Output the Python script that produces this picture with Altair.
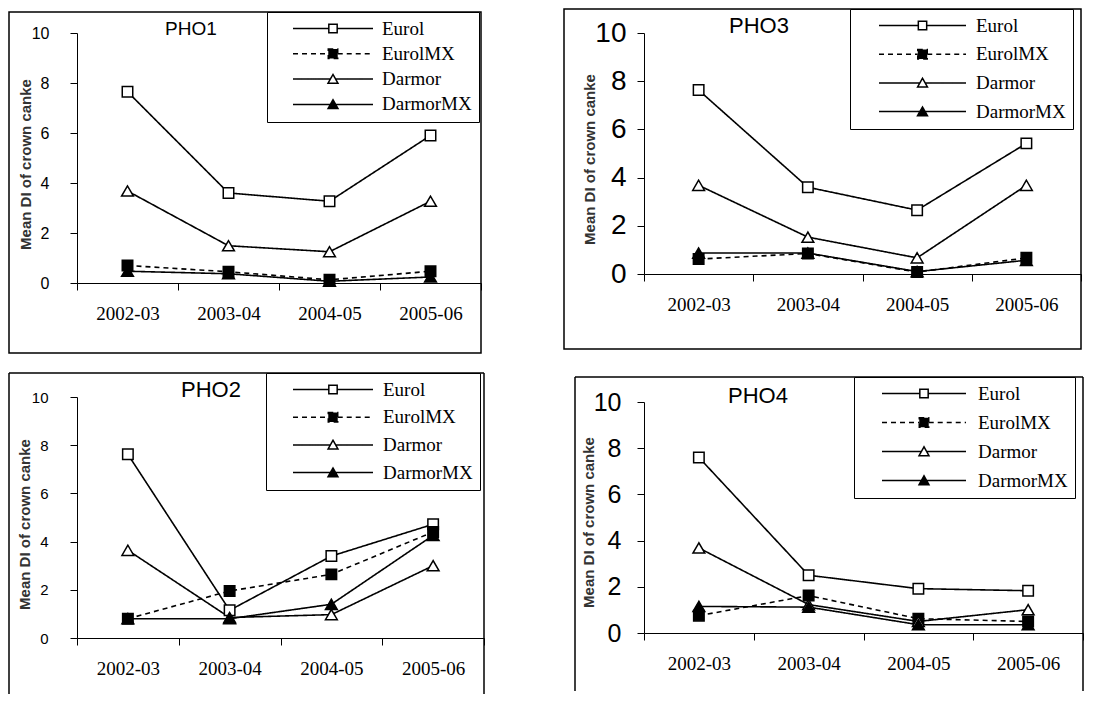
import altair as alt
import pandas as pd

years = ["2002-03", "2003-04", "2004-05", "2005-06"]
series = ["Eurol", "EurolMX", "Darmor", "DarmorMX"]
y_ticks = [0, 2, 4, 6, 8, 10]
y_title = "Mean DI of crown canke"

pho1_eurol = [7.65, 3.60, 3.27, 5.90]
pho1_eurolmx = [0.70, 0.45, 0.13, 0.47]
pho1_darmor = [3.68, 1.49, 1.25, 3.27]
pho1_darmormx = [0.47, 0.37, 0.07, 0.24]

pho3_eurol = [7.63, 3.60, 2.65, 5.42]
pho3_eurolmx = [0.62, 0.85, 0.08, 0.67]
pho3_darmor = [3.68, 1.53, 0.67, 3.68]
pho3_darmormx = [0.87, 0.87, 0.10, 0.57]

pho2_eurol = [7.62, 1.15, 3.40, 4.72]
pho2_eurolmx = [0.80, 1.95, 2.64, 4.40]
pho2_darmor = [3.64, 0.85, 0.97, 3.00]
pho2_darmormx = [0.80, 0.80, 1.40, 4.26]

pho4_eurol = [7.60, 2.50, 1.92, 1.83]
pho4_eurolmx = [0.75, 1.62, 0.62, 0.50]
pho4_darmor = [3.68, 1.23, 0.50, 1.01]
pho4_darmormx = [1.15, 1.12, 0.36, 0.36]

SERIF = "Liberation Serif"
SANS = "Liberation Sans"

dash_scale = alt.Scale(domain=series, range=[[1, 0], [5, 4], [1, 0], [1, 0]])
fill_scale = alt.Scale(domain=series, range=["white", "black", "white", "black"])


def legend_paths(half):
    s1, s2 = 0.76, 0.86
    tx, ty1, ty2, tb = 0.9, -0.85, 0.75, 0.48
    h = round(half, 3)
    p_eurol = f"M{-h},0H{-s1}M{s1},0H{h}M{-s1},{-s1}H{s1}V{s1}H{-s1}Z"
    p_eurolmx = f"M{-h},0H{-s2}M{s2},0H{h}M{-s2},{-s2}H{s2}V{s2}H{-s2}Z"
    p_tri = f"M{-h},0H{-tb}M{tb},0H{h}M0,{ty1}L{tx},{ty2}H{-tx}Z"
    return [p_eurol, p_eurolmx, p_tri, p_tri]


def panel(vals, title, w, h, frame, closed, leg, tpos, tsize, ylab, ytitle):
    rows = []
    for s, arr in zip(series, vals):
        for yr, v in zip(years, arr):
            rows.append({"year": yr, "series": s, "value": v})
    df = pd.DataFrame(rows)

    x = alt.X(
        "year:N",
        scale=alt.Scale(type="band", domain=years, paddingInner=0, paddingOuter=0),
        axis=alt.Axis(title=None, tickBand="extent", tickSize=7, labelAngle=0,
                      labelFont=SERIF, labelFontSize=19, labelPadding=14,
                      labelColor="black", domainColor="black", tickColor="black"),
    )
    y = alt.Y(
        "value:Q",
        scale=alt.Scale(domain=[0, 10], nice=False),
        axis=alt.Axis(values=y_ticks, tickSize=7, grid=False, labelFont=SANS,
                      labelFontSize=ylab[0], labelPadding=ylab[1], labelColor="black",
                      domainColor="black", tickColor="black",
                      title=y_title, titleX=ytitle[0], titleY=ytitle[1], titleAngle=270,
                      titleAlign="center", titleBaseline="middle", titleFont=SANS,
                      titleFontSize=15, titleFontWeight="bold", titleColor="#333333"),
    )

    fdf = pd.DataFrame({"f": [0]})
    l, t, r, b = frame
    layers = []
    if closed:
        layers.append(alt.Chart(fdf).mark_rect(fill="transparent", stroke="black", strokeWidth=1.5).encode(
            x=alt.value(l), x2=alt.value(r), y=alt.value(t), y2=alt.value(b)))
    else:
        layers.append(alt.Chart(fdf).mark_rule(color="black", strokeWidth=1.5).encode(
            x=alt.value(l), y=alt.value(t), y2=alt.value(b)))
        layers.append(alt.Chart(fdf).mark_rule(color="black", strokeWidth=1.5).encode(
            x=alt.value(l), x2=alt.value(r), y=alt.value(t)))
        layers.append(alt.Chart(fdf).mark_rule(color="black", strokeWidth=1.5).encode(
            x=alt.value(r), y=alt.value(t), y2=alt.value(b)))

    lx, ly, rp, half, so, lo = leg
    legend = alt.Legend(orient="none", legendX=lx, legendY=ly, title=None, padding=7,
                        rowPadding=rp, strokeColor="black", fillColor="white",
                        symbolSize=121, symbolStrokeWidth=1.5, symbolStrokeColor="black",
                        symbolFillColor="white", symbolOpacity=1, symbolOffset=so,
                        labelOffset=lo, labelFont=SERIF, labelFontSize=19,
                        labelColor="black", labelBaseline="middle")
    legend_layer = alt.Chart(df).mark_point(
        stroke="black", strokeWidth=1.5, opacity=0).encode(
        x=x, y=y,
        shape=alt.Shape("series:N", scale=alt.Scale(domain=series, range=legend_paths(half / 5.5)), legend=legend),
        fill=alt.Fill("series:N", scale=fill_scale, legend=legend),
        strokeDash=alt.StrokeDash("series:N", scale=dash_scale, legend=legend),
    )
    layers.append(legend_layer)

    lines = alt.Chart(df).mark_line(color="black", strokeWidth=1.6).encode(
        x=x, y=y,
        strokeDash=alt.StrokeDash("series:N", scale=dash_scale, legend=None),
        detail="series:N",
    )
    squares = alt.Chart(df).transform_filter(
        alt.FieldOneOfPredicate(field="series", oneOf=["Eurol", "EurolMX"])
    ).mark_point(shape="square", size=110, stroke="black", strokeWidth=1.5, opacity=1).encode(
        x=x, y=y, fill=alt.Fill("series:N", scale=fill_scale, legend=None))
    triangles = alt.Chart(df).transform_filter(
        alt.FieldOneOfPredicate(field="series", oneOf=["Darmor", "DarmorMX"])
    ).mark_point(shape="triangle-up", size=140, stroke="black", strokeWidth=1.5, opacity=1).encode(
        x=x, y=y, fill=alt.Fill("series:N", scale=fill_scale, legend=None))

    layers += [lines, squares, triangles]
    return alt.layer(*layers).properties(
        width=w, height=h,
        title=alt.TitleParams(text=title, anchor="start", frame="group", offset=tpos[1],
                              dx=tpos[0], dy=24, baseline="alphabetic",
                              font=SANS, fontSize=tsize, fontWeight="normal", color="black"),
    )


p1 = panel([pho1_eurol, pho1_eurolmx, pho1_darmor, pho1_darmormx], "PHO1", 404, 250,
           (-68, -21, 404, 320), True, (190, -21, 5.3, 40, 49.5, 39.5), (88, -19), 19,
           (16, 21), (-52, 131))
p2 = panel([pho2_eurol, pho2_eurolmx, pho2_darmor, pho2_darmormx], "PHO2", 407, 241,
           (-68, -24, 407, 297), False, (189, -24, 7.7, 40, 50.5, 40.5), (104, -23), 22,
           (15, 22), (-53, 127))
p3 = panel([pho3_eurol, pho3_eurolmx, pho3_darmor, pho3_darmormx], "PHO3", 437, 241,
           (-80, -24, 437, 316), True, (206, -24, 8.7, 43.5, 56, 44), (85, -23), 22,
           (28, 11), (-55, 126))
p4 = panel([pho4_eurol, pho4_eurolmx, pho4_darmor, pho4_darmormx], "PHO4", 439, 231,
           (-69, -25, 439, 289), False, (210, -25, 9, 42, 53.5, 44.5), (84, -25), 22,
           (25, 16), (-56, 120))

res_scale = dict(x="independent", y="independent", shape="independent",
                 fill="independent", strokeDash="independent")
res_leg = dict(shape="independent", fill="independent", strokeDash="independent")

col1 = alt.vconcat(p1, p2, spacing=18).resolve_scale(**res_scale).resolve_legend(**res_leg)
col2 = alt.vconcat(p3, p4, spacing=26).resolve_scale(**res_scale).resolve_legend(**res_leg)

chart = alt.hconcat(col1, col2, spacing=78).resolve_scale(**res_scale).resolve_legend(**res_leg).properties(
    padding=0, background="white"
).configure_view(stroke=None)

chart.save("out.html", embed_options={"renderer": "svg", "actions": False})
